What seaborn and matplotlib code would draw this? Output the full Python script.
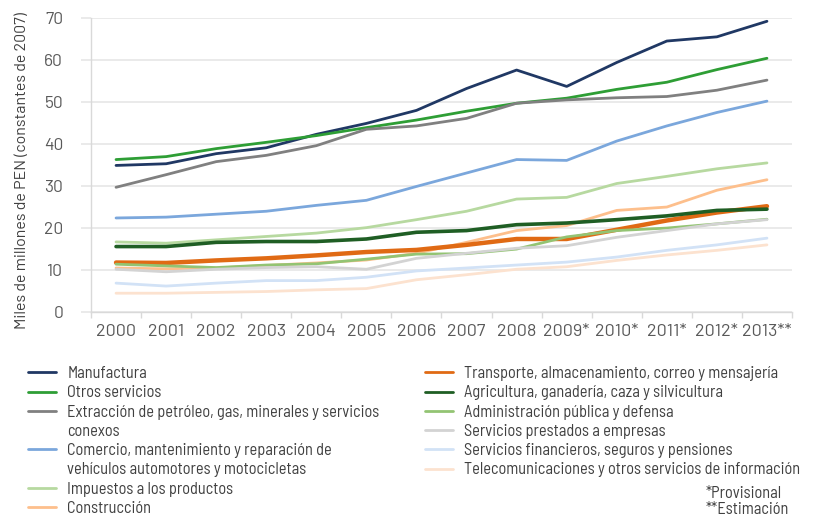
import matplotlib
matplotlib.use("Agg")
import matplotlib.pyplot as plt
import seaborn as sns
import pandas as pd
from matplotlib.lines import Line2D
from matplotlib.ticker import FixedLocator

years = ["2000", "2001", "2002", "2003", "2004", "2005", "2006", "2007",
         "2008", "2009*", "2010*", "2011*", "2012*", "2013**"]

manufactura = [34.8, 35.2, 37.6, 39.0, 42.2, 44.8, 47.9, 53.1, 57.5, 53.6, 59.3, 64.4, 65.4, 69.1]
otros_servicios = [36.2, 36.9, 38.8, 40.3, 41.9, 43.8, 45.6, 47.7, 49.6, 50.8, 52.9, 54.6, 57.6, 60.3]
extraccion = [29.6, 32.6, 35.7, 37.2, 39.5, 43.4, 44.2, 46.0, 49.6, 50.4, 50.9, 51.2, 52.7, 55.1]
comercio = [22.3, 22.5, 23.2, 23.9, 25.3, 26.5, 29.8, 33.0, 36.2, 36.0, 40.6, 44.2, 47.4, 50.1]
impuestos = [16.6, 16.3, 17.1, 17.9, 18.7, 20.0, 21.9, 23.9, 26.8, 27.2, 30.5, 32.2, 34.0, 35.4]
construccion = [10.4, 10.2, 10.4, 11.0, 11.6, 12.3, 13.9, 16.5, 19.3, 20.5, 24.1, 24.9, 28.9, 31.4]
transporte = [11.7, 11.6, 12.2, 12.7, 13.4, 14.2, 14.7, 15.9, 17.3, 17.3, 19.5, 21.7, 23.6, 25.1]
agricultura = [15.5, 15.5, 16.5, 16.7, 16.7, 17.3, 18.9, 19.3, 20.7, 21.1, 21.9, 22.8, 24.1, 24.4]
administracion = [11.3, 10.9, 10.5, 11.1, 11.4, 12.5, 13.7, 13.8, 14.9, 17.8, 19.3, 19.9, 20.9, 22.0]
serv_empresas = [10.1, 9.5, 10.1, 10.5, 10.7, 10.1, 12.7, 13.9, 15.1, 15.7, 17.7, 19.3, 20.9, 21.9]
financieros = [6.8, 6.1, 6.8, 7.4, 7.4, 8.2, 9.7, 10.4, 11.1, 11.8, 13.0, 14.6, 15.9, 17.5]
telecom = [4.4, 4.4, 4.6, 4.8, 5.2, 5.5, 7.6, 8.8, 10.1, 10.7, 12.2, 13.5, 14.6, 15.9]

series_names = [
    "Manufactura",
    "Otros servicios",
    "Extracción de petróleo, gas, minerales y servicios\nconexos",
    "Comercio, mantenimiento y reparación de\nvehículos automotores y motocicletas",
    "Impuestos a los productos",
    "Construcción",
    "Transporte, almacenamiento, correo y mensajería",
    "Agricultura, ganadería, caza y silvicultura",
    "Administración pública y defensa",
    "Servicios prestados a empresas",
    "Servicios financieros, seguros y pensiones",
    "Telecomunicaciones y otros servicios de información",
]
series_values = [manufactura, otros_servicios, extraccion, comercio, impuestos, construccion,
                 transporte, agricultura, administracion, serv_empresas, financieros, telecom]
colors = ["#203864", "#2e9e35", "#808080", "#7ba7dc", "#b7d9a0", "#fdbf8c",
          "#e06a14", "#1f5e24", "#93c473", "#d3d3d3", "#d2e2f6", "#fce2cf"]
widths = [2.0, 2.0, 2.0, 2.0, 2.0, 2.0, 3.2, 2.6, 2.0, 2.0, 2.0, 2.0]

sns.set_theme(style="white")
plt.rcParams["font.family"] = ["Barlow", "DejaVu Sans"]

fig = plt.figure(figsize=(8.19, 5.15), dpi=100)
ax = fig.add_axes([91 / 819, 1 - 311.7 / 515, (792 - 91) / 819, (311.7 - 17.5) / 515])

for name, vals, col, lw in zip(series_names, series_values, colors, widths):
    df = pd.DataFrame({"year": years, "value": vals})
    sns.lineplot(data=df, x="year", y="value", color=col, linewidth=lw, sort=False,
                 ax=ax, legend=False)

ax.set_xlim(-0.5, len(years) - 0.5)
ax.set_ylim(0, 70)
ax.set_yticks(range(0, 71, 10))
ax.yaxis.grid(True, color="#e6e6e6", linewidth=1.2)
ax.xaxis.grid(False)
for s in ["top", "right"]:
    ax.spines[s].set_visible(False)
for s in ["left", "bottom"]:
    ax.spines[s].set_color("#d9d9d9")
    ax.spines[s].set_linewidth(1.0)

ax.set_xticks(range(len(years)))
ax.set_xticklabels(years)
ax.xaxis.set_minor_locator(FixedLocator([i - 0.5 for i in range(len(years) + 1)]))
ax.tick_params(axis="x", which="major", length=0, pad=9, labelsize=13, labelcolor="#595959")
ax.tick_params(axis="x", which="minor", length=4, width=1, color="#d9d9d9", bottom=True)
ax.tick_params(axis="y", which="major", length=7, width=1.2, color="#e6e6e6", left=True,
               pad=13, labelsize=12.5, labelcolor="#595959")

ax.set_xlabel("")
ax.set_ylabel("Miles de millones de PEN (constantes de 2007)", fontsize=11.5, color="#404040")
ax.yaxis.set_label_coords(-62 / 701, 0.48)

leg_font = {"family": ["Barlow Semi Condensed", "DejaVu Sans"], "size": 11.8}

def make_handles(idxs):
    hs, ls = [], []
    for i in idxs:
        parts = series_names[i].split("\n")
        hs.append(Line2D([], [], color=colors[i], linewidth=2.0))
        ls.append(parts[0])
        for p in parts[1:]:
            hs.append(Line2D([], [], color="none", linewidth=0))
            ls.append(p)
    return hs, ls

common = dict(frameon=False, loc="upper left", handlelength=1.7, handletextpad=0.7,
              labelspacing=0.26, borderpad=0, borderaxespad=0, prop=leg_font,
              labelcolor="#404040")
h1, l1 = make_handles(range(0, 6))
leg1 = fig.legend(h1, l1, bbox_to_anchor=(28 / 819, 1 - 366 / 515), **common)
h2, l2 = make_handles(range(6, 12))
leg2 = fig.legend(h2, l2, bbox_to_anchor=(425 / 819, 1 - 366 / 515), **common)

fig.text(706 / 819, 1 - 494 / 515, "*Provisional", ha="left", va="center",
         family=["Barlow Semi Condensed", "DejaVu Sans"], fontsize=11.8, color="#404040")
fig.text(706 / 819, 1 - 510 / 515, "**Estimación", ha="left", va="center",
         family=["Barlow Semi Condensed", "DejaVu Sans"], fontsize=11.8, color="#404040")

fig.savefig("out.png", dpi=100, facecolor="white")
